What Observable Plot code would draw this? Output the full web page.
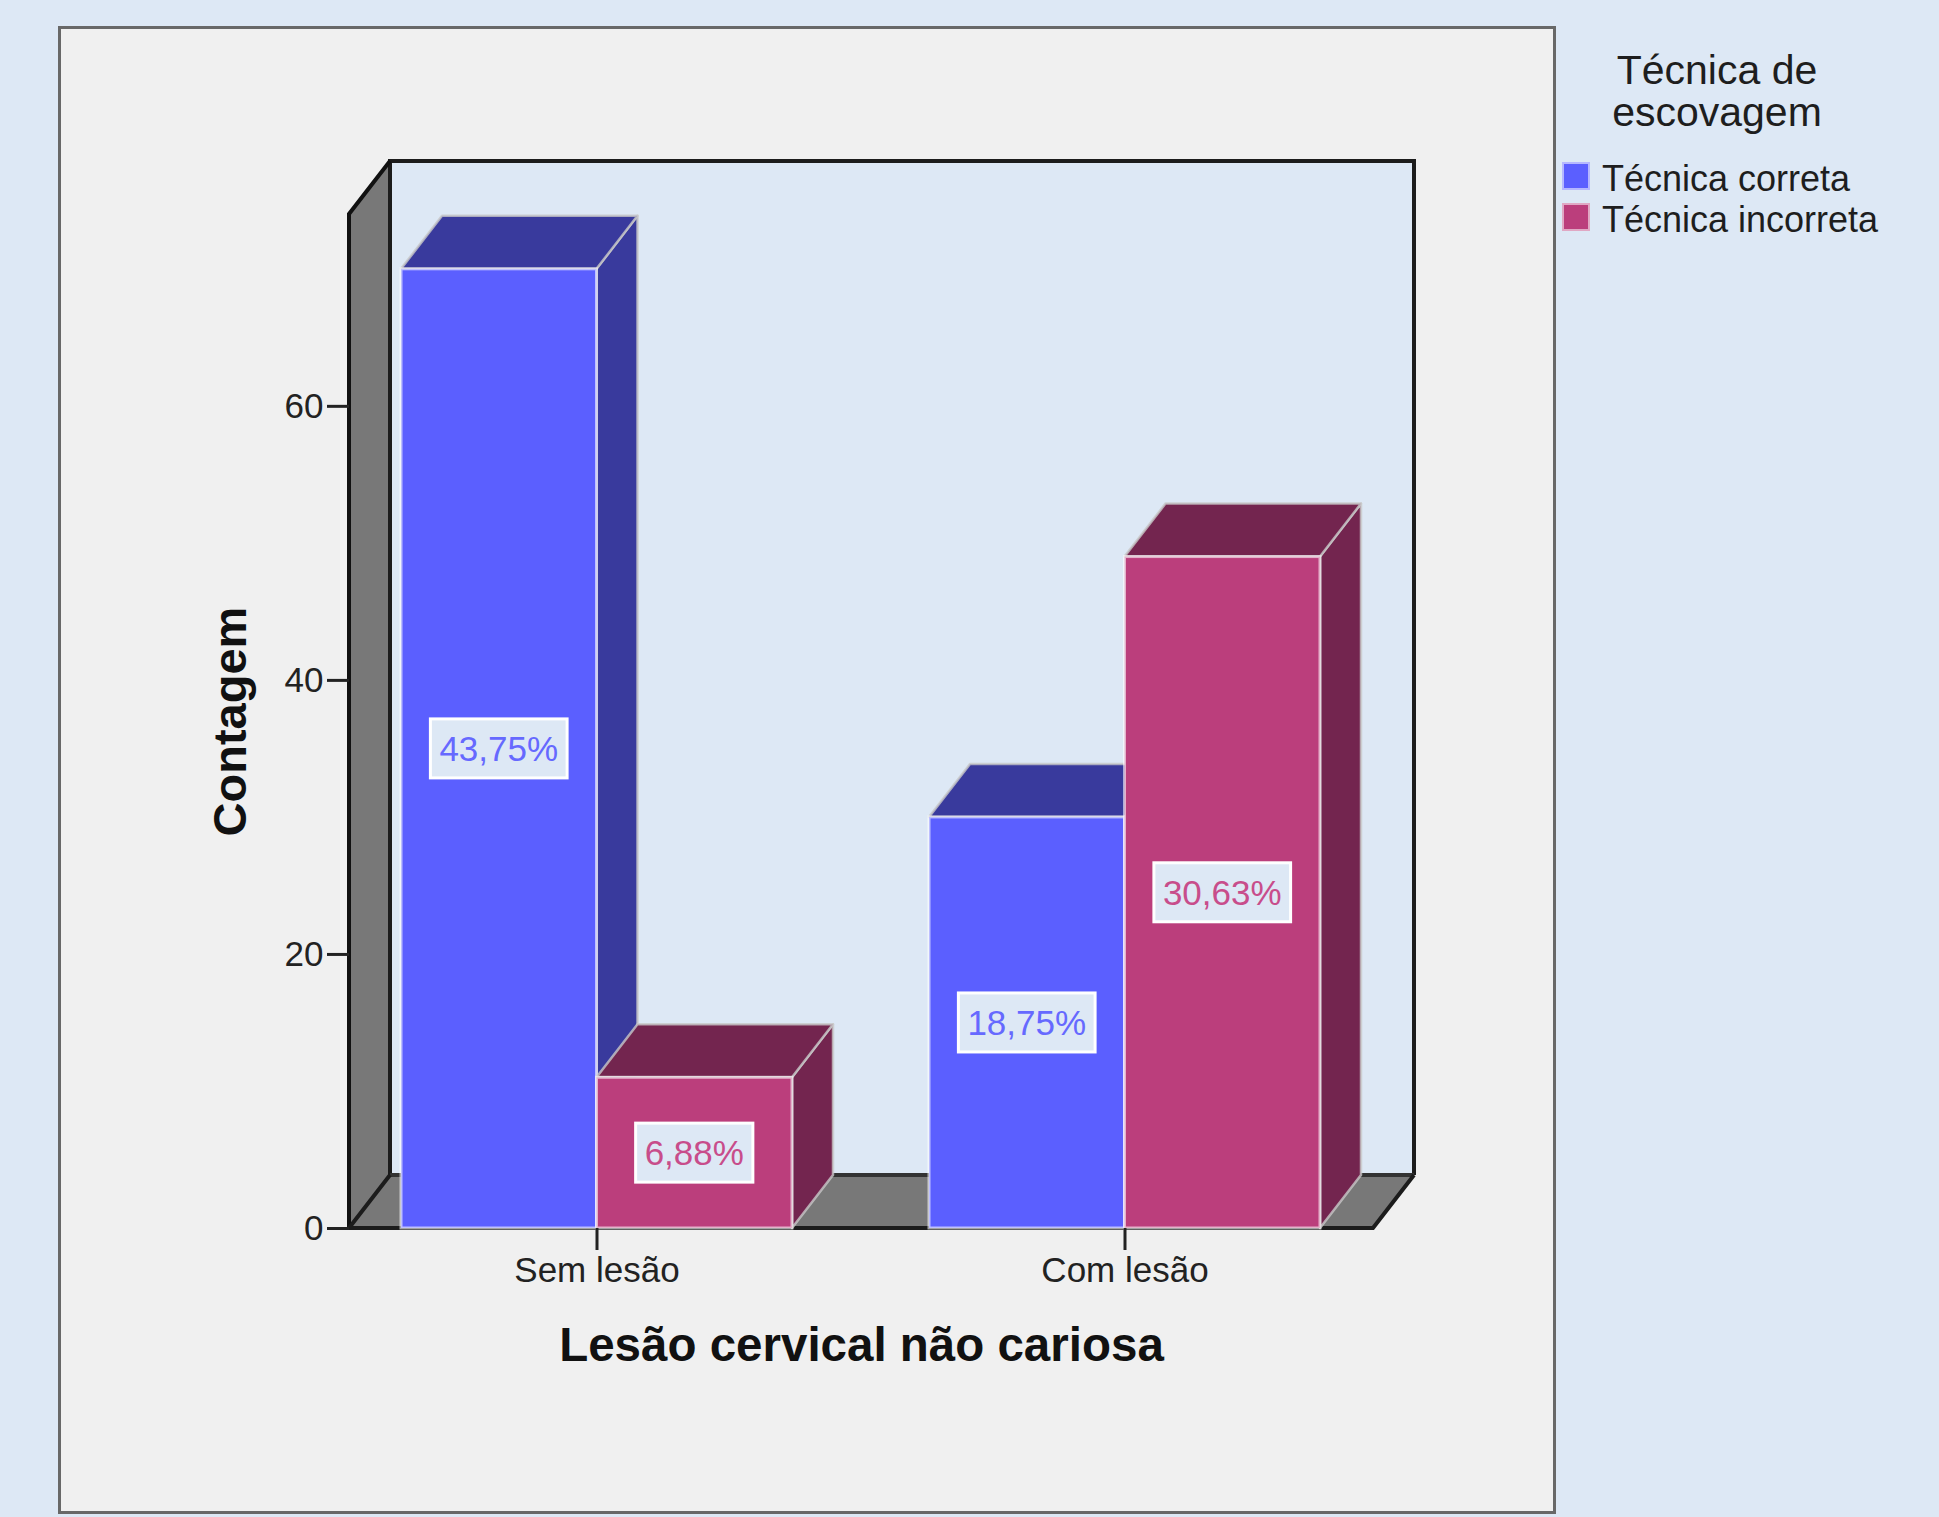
<!DOCTYPE html>
<html>
<head>
<meta charset="utf-8">
<script src="https://cdn.jsdelivr.net/npm/d3@7"></script>
<script src="https://cdn.jsdelivr.net/npm/@observablehq/plot@0.6"></script>
<style>
html, body { margin: 0; padding: 0; width: 1939px; height: 1517px; overflow: hidden; background: #DDE8F5; font-family: "Liberation Sans", Arial, sans-serif; }
#frame { position: absolute; left: 58px; top: 26px; width: 1498px; height: 1488px; box-sizing: border-box; border: 3px solid #686868; background: #F0F0F0; }
#chart { position: absolute; left: 0; top: 0; }
.lt { position: absolute; left: 1597px; width: 240px; text-align: center; font-size: 41px; line-height: 42px; color: #1e1e1e; white-space: nowrap; }
.sw { position: absolute; left: 1562px; width: 28px; height: 28px; box-sizing: border-box; border: 2px solid rgba(255,255,255,0.55); }
.li { position: absolute; left: 1602px; font-size: 36px; line-height: 36px; color: #1e1e1e; white-space: nowrap; }
</style>
</head>
<body>
<div id="frame"></div>
<div id="chart"></div>
<div id="legend"></div>
<script>
// ---- data ----
const categories = ["Sem lesão", "Com lesão"];
const series = ["Técnica correta", "Técnica incorreta"];
const countsCorreta = [70, 30];
const countsIncorreta = [11, 49];
const pctCorreta = ["43,75%", "18,75%"];
const pctIncorreta = ["6,88%", "30,63%"];
const yTicks = [0, 20, 40, 60];
const yMax = 74;
const xTitle = "Lesão cervical não cariosa";
const yTitle = "Contagem";
const legendTitle = ["Técnica de", "escovagem"];

// ---- styles ----
const frontColors = ["#5B5FFF", "#BB3E7C"];
const shadeColors = ["#393A9D", "#73254F"];
const labelColors = ["#6669FF", "#C84D8B"];
const DX = 41, DY = 53; // 3D depth offset in px

const rows = [];
categories.forEach((c, i) => {
  rows.push({cat: c, series: series[0], count: countsCorreta[i], pct: pctCorreta[i]});
  rows.push({cat: c, series: series[1], count: countsIncorreta[i], pct: pctIncorreta[i]});
});

const ctx = document.createElement("canvas").getContext("2d");
const labelFont = 35;
ctx.font = `${labelFont}px "Liberation Sans"`;

function pts(a) { return a.map(p => p.join(",")).join(" "); }

function wallsMark(index, scales, values, dimensions) {
  const x0 = dimensions.marginLeft, x1 = dimensions.width - dimensions.marginRight;
  const y0 = scales.y(yMax), y1 = scales.y(0);
  const g = d3.create("svg:g");
  g.append("rect").attr("x", x0 + DX).attr("y", y0 - DY).attr("width", x1 - x0).attr("height", y1 - y0).attr("fill", "#DDE8F5");
  g.append("polygon").attr("points", pts([[x0, y0], [x0 + DX, y0 - DY], [x0 + DX, y1 - DY], [x0, y1]])).attr("fill", "#787878");
  g.append("polygon").attr("points", pts([[x0, y1], [x0 + DX, y1 - DY], [x1 + DX, y1 - DY], [x1, y1]])).attr("fill", "#787878");
  const line = (p, color, w) => g.append("polyline").attr("points", pts(p)).attr("fill", "none").attr("stroke", color).attr("stroke-width", w).attr("stroke-linejoin", "miter");
  line([[x0 + DX, y1 - DY], [x0 + DX, y0 - DY], [x1 + DX, y0 - DY], [x1 + DX, y1 - DY]], "#1c1c1c", 4);
  line([[x0 + DX, y1 - DY], [x1 + DX, y1 - DY]], "#333", 4);
  line([[x0, y1], [x0, y0], [x0 + DX, y0 - DY]], "#111", 4);
  line([[x0 + DX, y1 - DY], [x0, y1], [x1, y1], [x1 + DX, y1 - DY]], "#1c1c1c", 4);
  return g.node();
}

function box3d(index, scales, values, dimensions, context, next) {
  const g = next(index, scales, values, dimensions, context);
  const ns = "http://www.w3.org/2000/svg";
  const rects = Array.from(g.querySelectorAll("rect"));
  const labels = [];
  rects.forEach((rect, k) => {
    const d = rows[index[k]];
    const s = series.indexOf(d.series);
    let x = +rect.getAttribute("x"), y = +rect.getAttribute("y");
    let w = +rect.getAttribute("width"), h = +rect.getAttribute("height");
    w = w / 2; x = x + s * w;
    rect.setAttribute("x", x); rect.setAttribute("width", w);
    rect.setAttribute("stroke", "#ffffff"); rect.setAttribute("stroke-opacity", "0.6"); rect.setAttribute("stroke-width", "3");
    const side = document.createElementNS(ns, "polygon");
    side.setAttribute("points", pts([[x + w, y], [x + w + DX, y - DY], [x + w + DX, y + h - DY], [x + w, y + h]]));
    const top = document.createElementNS(ns, "polygon");
    top.setAttribute("points", pts([[x, y], [x + DX, y - DY], [x + w + DX, y - DY], [x + w, y]]));
    for (const p of [side, top]) {
      p.setAttribute("fill", shadeColors[s]);
      p.setAttribute("stroke", "#c8c8c8"); p.setAttribute("stroke-opacity", "0.8"); p.setAttribute("stroke-width", "2.5");
      p.setAttribute("stroke-linejoin", "round");
      rect.parentNode.insertBefore(p, rect);
    }
    // label box
    const cx = x + w / 2, cy = y + h / 2;
    const tw = ctx.measureText(d.pct).width;
    const bw = tw + 18, bh = 59;
    const lg = document.createElementNS(ns, "g");
    const box = document.createElementNS(ns, "rect");
    box.setAttribute("x", cx - bw / 2); box.setAttribute("y", cy - bh / 2);
    box.setAttribute("width", bw); box.setAttribute("height", bh);
    box.setAttribute("fill", "#DDE8F5"); box.setAttribute("stroke", "#ffffff"); box.setAttribute("stroke-width", "3");
    const t = document.createElementNS(ns, "text");
    t.setAttribute("x", cx); t.setAttribute("y", cy + labelFont * 0.36);
    t.setAttribute("text-anchor", "middle"); t.setAttribute("font-size", labelFont);
    t.setAttribute("font-family", "Liberation Sans"); t.setAttribute("fill", labelColors[s]);
    t.textContent = d.pct;
    lg.appendChild(box); lg.appendChild(t);
    labels.push(lg);
  });
  labels.forEach(l => g.appendChild(l));
  return g;
}

const chart = Plot.plot({
  width: 1939,
  height: 1517,
  marginLeft: 349,
  marginRight: 566,
  marginTop: 214,
  marginBottom: 289,
  style: {background: "transparent", fontFamily: "Liberation Sans, Arial, sans-serif", overflow: "visible", color: "#1e1e1e"},
  x: {type: "band", domain: categories, paddingInner: 0.259, paddingOuter: 0.0975, label: null},
  y: {domain: [0, yMax], label: null},
  color: {domain: series, range: frontColors},
  marks: [
    wallsMark,
    Plot.barY(rows, {x: "cat", y1: d => 0, y2: "count", fill: "series", render: box3d}),
    Plot.axisY({ticks: yTicks, tickSize: 22, tickPadding: 4, fontSize: 35, strokeWidth: 3, color: "#222", label: null}),
    Plot.axisX({tickSize: 22, tickPadding: 7, fontSize: 35, strokeWidth: 3, color: "#222", label: null}),
    Plot.text([yTitle], {text: d => d, frameAnchor: "left", textAnchor: "middle", lineAnchor: "middle", rotate: -90, dx: -119, fontSize: 47, fontWeight: "bold", fill: "#111"}),
    Plot.text([xTitle], {text: d => d, frameAnchor: "bottom", textAnchor: "middle", lineAnchor: "middle", dy: 117, fontSize: 47.5, fontWeight: "bold", fill: "#111"})
  ]
});
document.getElementById("chart").appendChild(chart);

// legend
const legend = document.getElementById("legend");
const lt = document.createElement("div");
lt.className = "lt"; lt.style.top = "49px"; lt.innerHTML = legendTitle.join("<br>");
legend.appendChild(lt);
series.forEach((s, i) => {
  const sw = document.createElement("div");
  sw.className = "sw"; sw.style.top = (162 + 41 * i) + "px"; sw.style.background = frontColors[i];
  legend.appendChild(sw);
  const li = document.createElement("div");
  li.className = "li"; li.style.top = (161 + 41 * i) + "px"; li.textContent = s;
  legend.appendChild(li);
});
</script>
</body>
</html>
